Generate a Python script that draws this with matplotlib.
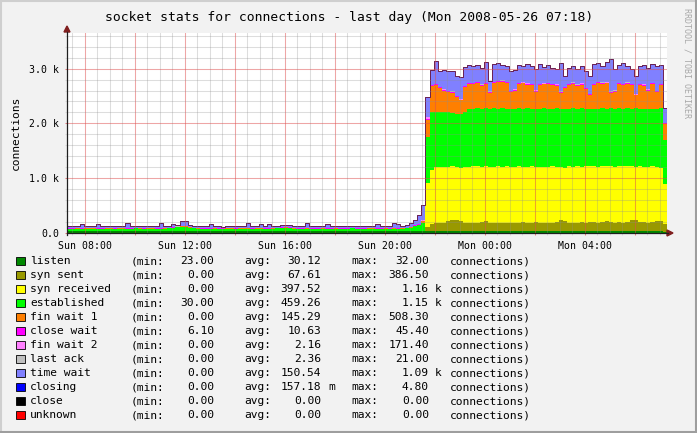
import matplotlib
matplotlib.use("Agg")
import matplotlib.pyplot as plt
import matplotlib.dates as mdates
from matplotlib.lines import Line2D
from matplotlib.patches import Polygon, Rectangle
from matplotlib.ticker import FixedLocator, MultipleLocator, FuncFormatter
from datetime import datetime, timedelta
import numpy as np

# --- data (10 minute steps starting Sun 2008-05-25 07:18) ---
t0 = datetime(2008, 5, 25, 7, 18)
step_min = 10

listen = [
    30, 31, 30, 29, 30, 31, 30, 30, 29, 30, 31, 30,
    30, 30, 29, 30, 31, 30, 30, 31, 30, 29, 30, 30,
    31, 30, 30, 29, 30, 30, 31, 30, 30, 30, 29, 30,
    30, 29, 30, 31, 30, 30, 29, 30, 31, 30, 30, 30,
    29, 30, 30, 31, 30, 30, 30, 29, 30, 31, 30, 30,
    30, 30, 31, 30, 29, 30, 30, 30, 31, 30, 30, 29,
    30, 31, 30, 30, 29, 30, 30, 31, 30, 30, 30, 29,
    30, 30, 31, 30, 30, 31, 30, 30, 31, 30, 30, 31,
    30, 31, 30, 30, 31, 30, 31, 30, 30, 31, 30, 30,
    31, 30, 30, 31, 30, 30, 31, 30, 31, 30, 30, 31,
    30, 31, 30, 30, 31, 30, 30, 31, 30, 30, 31, 30,
    30, 30, 31, 30, 30, 31, 30, 30, 32, 31, 30, 23,
]
syn_sent = [
    0, 0, 0, 0, 0, 0, 0, 0, 0, 0, 0, 0,
    0, 0, 0, 0, 0, 1, 0, 0, 0, 0, 0, 0,
    0, 0, 0, 0, 0, 0, 0, 0, 0, 0, 0, 0,
    0, 0, 0, 0, 0, 0, 0, 0, 0, 0, 0, 0,
    0, 0, 0, 0, 0, 0, 0, 0, 0, 0, 0, 0,
    0, 0, 0, 0, 0, 0, 0, 0, 0, 0, 0, 0,
    0, 0, 0, 0, 0, 0, 0, 0, 0, 0, 0, 0,
    0, 10, 80, 140, 145, 150, 160, 180, 200, 210, 180, 160,
    155, 150, 160, 170, 185, 160, 150, 160, 155, 150, 160, 145,
    150, 165, 160, 155, 170, 160, 155, 150, 160, 170, 200, 180,
    155, 150, 160, 170, 155, 165, 170, 160, 165, 180, 170, 160,
    165, 160, 170, 210, 200, 170, 165, 160, 170, 180, 190, 150,
]
syn_received = [
    0, 0, 0, 0, 0, 0, 0, 0, 0, 0, 0, 0,
    0, 0, 0, 0, 0, 0, 0, 0, 0, 0, 0, 0,
    0, 0, 0, 0, 0, 0, 0, 0, 0, 0, 0, 0,
    0, 0, 0, 0, 0, 0, 0, 0, 0, 0, 0, 0,
    0, 0, 0, 0, 0, 0, 0, 0, 0, 0, 0, 0,
    0, 0, 0, 0, 0, 0, 0, 0, 0, 0, 0, 0,
    0, 0, 0, 0, 0, 0, 0, 0, 0, 0, 0, 0,
    0, 0, 800, 980, 1025, 1030, 1010, 1000, 990, 960, 980, 1020,
    1025, 1040, 1030, 1010, 1015, 1010, 1030, 1030, 1025, 1040, 1010, 1035,
    1040, 1015, 1010, 1035, 1010, 1020, 1015, 1030, 1030, 1010, 970, 980,
    1035, 1030, 1030, 1010, 1045, 1025, 1030, 1020, 1025, 1020, 1020, 1020,
    1025, 1040, 1020, 990, 980, 1020, 1015, 1010, 1020, 1000, 960, 720,
]
established = [
    50, 48, 52, 50, 49, 51, 50, 47, 50, 52, 50, 49,
    50, 51, 49, 50, 52, 50, 48, 50, 51, 50, 49, 52,
    55, 60, 75, 85, 88, 70, 55, 50, 48, 50, 49, 51,
    50, 49, 51, 50, 48, 50, 52, 50, 49, 51, 50, 50,
    49, 51, 55, 65, 68, 62, 52, 50, 49, 51, 50, 48,
    50, 52, 49, 50, 51, 50, 48, 50, 52, 50, 49, 50,
    51, 50, 49, 50, 52, 50, 51, 49, 50, 55, 70, 90,
    110, 150, 850, 1050, 1010, 990, 1010, 990, 970, 980, 980, 990,
    1050, 1050, 1060, 1060, 1050, 1070, 1070, 1050, 1070, 1050, 1060, 1060,
    1060, 1060, 1080, 1050, 1050, 1060, 1080, 1060, 1050, 1070, 1070, 1070,
    1050, 1070, 1050, 1070, 1040, 1040, 1040, 1060, 1060, 1040, 1060, 1060,
    1060, 1040, 1060, 1040, 1070, 1050, 1050, 1070, 1050, 1050, 1100, 800,
]
fin_wait_1 = [
    2, 3, 1, 2, 4, 2, 3, 2, 1, 3, 2, 2,
    3, 2, 2, 1, 3, 2, 4, 2, 3, 2, 2, 3,
    2, 3, 4, 5, 3, 2, 2, 3, 2, 1, 2, 3,
    2, 2, 3, 2, 1, 3, 2, 4, 2, 2, 3, 2,
    3, 2, 3, 4, 3, 2, 2, 3, 2, 3, 2, 2,
    2, 3, 2, 2, 3, 2, 1, 2, 3, 2, 2, 3,
    2, 3, 2, 2, 3, 2, 3, 2, 4, 3, 5, 10,
    15, 20, 300, 480, 490, 440, 390, 370, 370, 300, 250, 460,
    460, 440, 450, 420, 440, 290, 450, 480, 480, 460, 310, 330,
    440, 460, 430, 430, 320, 430, 430, 450, 430, 410, 290, 380,
    430, 440, 420, 430, 350, 260, 430, 460, 440, 460, 280, 310,
    440, 430, 440, 430, 230, 430, 430, 330, 440, 310, 420, 300,
]
close_wait = [
    8, 7, 8, 9, 8, 7, 8, 8, 9, 8, 7, 8,
    8, 9, 8, 7, 8, 8, 9, 8, 7, 8, 8, 9,
    8, 8, 9, 10, 9, 8, 8, 7, 8, 8, 9, 8,
    7, 8, 8, 9, 8, 7, 8, 8, 9, 8, 8, 7,
    8, 8, 9, 8, 7, 8, 8, 9, 8, 8, 7, 8,
    8, 9, 8, 7, 8, 8, 9, 8, 7, 8, 8, 9,
    8, 7, 8, 8, 9, 8, 7, 8, 8, 9, 10, 12,
    12, 14, 18, 16, 15, 17, 16, 18, 17, 16, 15, 17,
    16, 18, 17, 15, 16, 17, 18, 16, 15, 17, 16, 18,
    17, 16, 15, 18, 17, 16, 17, 15, 16, 18, 17, 16,
    15, 17, 16, 18, 17, 16, 15, 17, 18, 16, 17, 15,
    16, 18, 17, 16, 15, 17, 16, 18, 17, 16, 17, 14,
]
fin_wait_2 = [
    0, 0, 1, 0, 0, 0, 0, 1, 0, 0, 0, 0,
    0, 1, 0, 0, 0, 0, 1, 0, 0, 0, 0, 0,
    0, 0, 0, 1, 0, 0, 0, 0, 0, 1, 0, 0,
    0, 0, 0, 0, 1, 0, 0, 0, 0, 0, 1, 0,
    1, 0, 0, 0, 0, 0, 0, 1, 0, 0, 0, 0,
    0, 0, 0, 1, 0, 0, 0, 0, 1, 0, 0, 0,
    0, 0, 1, 0, 0, 0, 0, 0, 0, 1, 0, 2,
    3, 10, 40, 6, 5, 4, 5, 6, 4, 5, 6, 4,
    5, 4, 6, 5, 4, 5, 6, 4, 5, 6, 5, 4,
    4, 5, 6, 4, 5, 4, 5, 6, 5, 4, 5, 6,
    5, 6, 4, 5, 4, 6, 5, 4, 5, 6, 4, 5,
    4, 5, 6, 5, 4, 5, 6, 4, 5, 6, 5, 3,
]
last_ack = [
    1, 2, 1, 2, 1, 1, 2, 1, 2, 1, 1, 2,
    2, 1, 1, 2, 1, 2, 1, 1, 2, 1, 2, 1,
    1, 2, 1, 2, 2, 1, 1, 2, 1, 2, 1, 1,
    2, 1, 2, 1, 1, 2, 1, 2, 1, 1, 2, 1,
    1, 2, 1, 1, 2, 1, 2, 1, 1, 2, 1, 2,
    2, 1, 1, 2, 1, 2, 1, 1, 2, 1, 2, 1,
    1, 2, 1, 2, 1, 1, 2, 1, 2, 1, 2, 3,
    3, 4, 5, 4, 3, 4, 5, 4, 3, 4, 5, 4,
    4, 3, 4, 5, 4, 3, 4, 5, 4, 3, 4, 5,
    3, 4, 5, 4, 3, 4, 5, 4, 3, 4, 5, 4,
    4, 3, 4, 5, 4, 3, 4, 5, 4, 3, 4, 5,
    3, 4, 5, 4, 3, 4, 5, 4, 3, 4, 5, 3,
]
time_wait = [
    35, 38, 40, 75, 36, 34, 38, 80, 40, 36, 35, 38,
    36, 40, 85, 38, 36, 35, 40, 37, 36, 38, 90, 37,
    38, 70, 36, 95, 80, 38, 36, 40, 35, 36, 82, 34,
    30, 28, 32, 35, 36, 38, 40, 90, 36, 38, 75, 37,
    80, 38, 36, 40, 35, 37, 38, 36, 40, 85, 38, 36,
    37, 40, 75, 38, 36, 35, 40, 37, 38, 36, 40, 38,
    36, 38, 80, 37, 40, 38, 85, 80, 36, 40, 60, 100,
    150, 280, 350, 265, 425, 295, 355, 355, 375, 365, 395, 335,
    325, 305, 305, 295, 375, 195, 325, 325, 275, 285, 355, 355,
    315, 295, 345, 315, 385, 355, 295, 315, 285, 285, 515, 205,
    295, 305, 275, 305, 305, 315, 355, 345, 305, 365, 585, 395,
    325, 375, 305, 265, 335, 315, 345, 385, 345, 455, 345, 275,
]
closing = [
    0, 0, 0, 0, 0, 0, 0, 0, 0, 0, 0, 0,
    0, 0, 0, 0, 0, 0, 0, 0, 0, 0, 0, 0,
    0, 0, 0, 0, 0, 0, 0, 0, 0, 0, 0, 0,
    0, 0, 0, 0, 0, 0, 0, 0, 0, 0, 0, 0,
    0, 0, 0, 0, 0, 0, 0, 0, 0, 0, 0, 0,
    0, 0, 0, 0, 0, 0, 0, 0, 0, 0, 0, 0,
    0, 0, 0, 0, 0, 0, 0, 0, 0, 0, 0, 0,
    0, 0, 1, 0, 0, 1, 0, 0, 0, 1, 0, 0,
    0, 1, 0, 0, 0, 0, 1, 0, 0, 0, 1, 0,
    0, 0, 1, 0, 0, 0, 0, 1, 0, 0, 0, 0,
    1, 0, 0, 0, 1, 0, 0, 0, 0, 1, 0, 0,
    0, 0, 1, 0, 0, 0, 1, 0, 0, 0, 0, 0,
]
close = [0] * len(listen)
unknown = [0] * len(listen)

names = ["listen", "syn sent", "syn received", "established", "fin wait 1",
         "close wait", "fin wait 2", "last ack", "time wait", "closing",
         "close", "unknown"]
colors = ["#008800", "#999900", "#FFFF00", "#00FF00", "#FF7F00", "#FF00FF",
          "#FF80FF", "#C0C0C0", "#8080FF", "#0000FF", "#000000", "#FF0000"]
stat_min = ["23.00", "0.00", "0.00", "30.00", "0.00", "6.10",
            "0.00", "0.00", "0.00", "0.00", "0.00", "0.00"]
stat_avg = ["30.12", "67.61", "397.52", "459.26", "145.29", "10.63",
            "2.16", "2.36", "150.54", "157.18 m", "0.00", "0.00"]
stat_max = ["32.00", "386.50", "1.16 k", "1.15 k", "508.30", "45.40",
            "171.40", "21.00", "1.09 k", "4.80", "0.00", "0.00"]

W, H = 697, 433
MONO = "DejaVu Sans Mono"
plt.rcParams["font.family"] = MONO


def px(x, y):
    return x / W, 1 - y / H


fig = plt.figure(figsize=(W / 100, H / 100), dpi=100, facecolor="#F2F2F2")
ax = fig.add_axes([67 / W, (H - 233) / H, 600 / W, 200 / H])
ax.set_facecolor("white")

series = [listen, syn_sent, syn_received, established, fin_wait_1, close_wait,
          fin_wait_2, last_ack, time_wait, closing, close, unknown]
n = len(listen)
edges = mdates.date2num([t0 + timedelta(minutes=step_min * i) for i in range(n + 1)])
cum = np.cumsum(np.array(series, dtype=float), axis=0)
for k in reversed(range(len(series))):
    y = np.append(cum[k], cum[k][-1])
    ax.fill_between(edges, 0, y, step="post", color=colors[k], lw=0)
top = np.append(cum[-1], cum[-1][-1])
ax.step(edges, top, where="post", color="#6a1f50", lw=0.7)

ax.set_xlim(edges[0], edges[-1])
ax.set_ylim(0, 3650)

# grid (drawn over the areas, semi transparent)
major_rgb = (0.87, 0.31, 0.31)
minor_rgb = (0.56, 0.56, 0.56)
ax.xaxis.set_major_locator(mdates.HourLocator(byhour=range(0, 24, 2)))
ax.xaxis.set_minor_locator(mdates.MinuteLocator(byminute=[0, 30]))


def xfmt(v, pos):
    d = mdates.num2date(v)
    return d.strftime("%a %H:%M") if d.hour % 4 == 0 else ""


ax.xaxis.set_major_formatter(FuncFormatter(xfmt))
ax.yaxis.set_major_locator(FixedLocator([0, 1000, 2000, 3000]))
ax.yaxis.set_major_formatter(FuncFormatter(
    lambda v, p: "0.0" if v == 0 else "%.1f k" % (v / 1000)))
ax.yaxis.set_minor_locator(MultipleLocator(200))
ax.set_axisbelow(False)
ax.grid(which="major", color=major_rgb, alpha=0.5, lw=0.75)
ax.grid(which="minor", color=minor_rgb, alpha=0.3, lw=0.75)
ax.tick_params(which="major", length=1.5, width=0.75, color=(0.9, 0.5, 0.5),
               labelsize=7.1, pad=4.2)
ax.tick_params(which="minor", length=1.5, width=0.75, color=(0.85, 0.85, 0.85))
for s in ax.spines.values():
    s.set_visible(False)

# axes with arrows (pixel coords)
ident = matplotlib.transforms.IdentityTransform()
axis_c = (0.12, 0.12, 0.12)
arrow_c = (0.5, 0.12, 0.12)
fig.add_artist(Line2D([67, 668], [H - 233, H - 233], color=axis_c, lw=0.9, transform=ident))
fig.add_artist(Line2D([67, 67], [H - 235, H - 32], color=axis_c, lw=0.9, transform=ident))
fig.add_artist(Polygon([[667, H - 230], [667, H - 236], [673, H - 233]],
                       closed=True, color=arrow_c, transform=ident))
fig.add_artist(Polygon([[64, H - 32], [70, H - 32], [67, H - 26]],
                       closed=True, color=arrow_c, transform=ident))

# texts
fig.text(*px(349.5, 17), "socket stats for connections - last day (Mon 2008-05-26 07:18)",
         ha="center", va="center", fontsize=9.4)
fig.text(*px(16, 133), "connections", rotation=90, ha="center", va="center", fontsize=8.1)
fig.text(*px(687, 63), "RRDTOOL / TOBI OETIKER", rotation=270, ha="center", va="center",
         fontsize=6, color="#A8A8A8")

# legend
for r, name in enumerate(names):
    yc = 261 + 14 * r
    fig.add_artist(Rectangle((16, H - yc - 4), 9, 8, facecolor=colors[r],
                             edgecolor="#000000", lw=0.6, transform=ident))
    kw = dict(va="center", fontsize=8.1)
    fig.text(*px(30, yc), name, ha="left", **kw)
    fig.text(*px(131, yc), "(min:", ha="left", **kw)
    fig.text(*px(214, yc), stat_min[r], ha="right", **kw)
    fig.text(*px(244, yc), "avg:", ha="left", **kw)
    v, _, u = stat_avg[r].partition(" ")
    fig.text(*px(321, yc), v, ha="right", **kw)
    if u:
        fig.text(*px(328, yc), u, ha="left", **kw)
    fig.text(*px(351, yc), "max:", ha="left", **kw)
    v, _, u = stat_max[r].partition(" ")
    fig.text(*px(429, yc), v, ha="right", **kw)
    if u:
        fig.text(*px(435, yc), u, ha="left", **kw)
    fig.text(*px(450, yc), "connections)", ha="left", **kw)

# 3d-ish frame
fig.add_artist(Line2D([0, W], [H - 0.5, H - 0.5], color="#CFCFCF", lw=1.5, transform=ident))
fig.add_artist(Line2D([0.5, 0.5], [0, H], color="#CFCFCF", lw=1.5, transform=ident))
fig.add_artist(Line2D([0, W], [1, 1], color="#9E9E9E", lw=1.5, transform=ident))
fig.add_artist(Line2D([W - 1, W - 1], [0, H], color="#9E9E9E", lw=1.5, transform=ident))

fig.savefig("out.png", dpi=100, facecolor=fig.get_facecolor())
